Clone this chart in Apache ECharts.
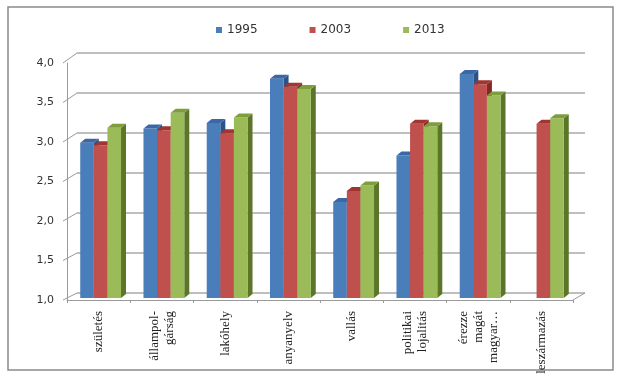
<!DOCTYPE html>
<html>
<head>
<meta charset="utf-8">
<script src="https://cdn.jsdelivr.net/npm/echarts@6/dist/echarts.min.js"></script>
<style>html,body{margin:0;padding:0;background:#fff;}#c{width:629px;height:382px;}</style>
</head>
<body>
<div id="c"></div>
<script>
const categories = ['születés', 'állampol-\ngárság', 'lakóhely', 'anyanyelv', 'vallás', 'politikai\nlojalitás', 'érezze\nmagát\nmagyar…', 'leszármazás'];
const years = ['1995', '2003', '2013'];
const v1995 = [2.99, 3.17, 3.24, 3.80, 2.24, 2.83, 3.86, null];
const v2003 = [2.96, 3.15, 3.11, 3.70, 2.38, 3.23, 3.73, 3.23];
const v2013 = [3.18, 3.37, 3.31, 3.67, 2.45, 3.20, 3.59, 3.30];
const yTicks = [1.0, 1.5, 2.0, 2.5, 3.0, 3.5, 4.0];

const seriesValues = [v1995, v2003, v2013];
const faceColors = [
  {front: '#4a7ebb', top: '#3a68a6', side: '#2c5287'},
  {front: '#c0504d', top: '#a13532', side: '#832826'},
  {front: '#9bbb59', top: '#7e9e3c', side: '#5b7629'}
];
const DX = 5, DY = -4;

const FRONT = {left: 67, right: 56, top: 63, bottom: 82};
const BACK = {left: 77, right: 44, top: 53, bottom: 89};

function makeRender(s) {
  return function (params, api) {
    const v = api.value(1);
    if (v == null || isNaN(v)) return null;
    const i = api.value(0);
    const base = api.coord([i, 1]);
    const top = api.coord([i, v]);
    const band = api.size([1, 0])[0];
    const w = band * 0.215;
    const x0 = base[0] - 1.5 * w + s * w + 2;
    const y0 = top[1], yb = base[1] - 2;
    const c = faceColors[s];
    return {
      type: 'group',
      children: [
        {type: 'polygon', shape: {points: [[x0 + w, y0], [x0 + w + DX, y0 + DY], [x0 + w + DX, yb + DY], [x0 + w, yb]]}, style: {fill: c.side}},
        {type: 'rect', shape: {x: x0, y: y0, width: w, height: yb - y0}, style: {fill: c.front}},
        {type: 'polygon', shape: {points: [[x0, y0], [x0 + w, y0], [x0 + w + DX, y0 + DY], [x0 + DX, y0 + DY]]}, style: {fill: c.top}}
      ]
    };
  };
}

const series = years.map((y, s) => ({
  name: y,
  type: 'custom',
  xAxisIndex: 0,
  yAxisIndex: 0,
  renderItem: makeRender(s),
  itemStyle: {color: faceColors[s].front},
  encode: {x: 0, y: 1},
  data: seriesValues[s].map((v, i) => [i, v == null ? NaN : v]),
  z: 5
}));

const chart = echarts.init(document.getElementById('c'), null, {renderer: 'canvas'});
chart.setOption({
  animation: false,
  backgroundColor: '#fff',
  legend: {
    data: years,
    left: 211,
    top: 19,
    icon: 'rect',
    itemWidth: 6,
    itemHeight: 6,
    itemGap: 52,
    textStyle: {fontFamily: 'DejaVu Sans', fontSize: 12, color: '#333'}
  },
  grid: [
    Object.assign({}, FRONT),
    Object.assign({}, BACK)
  ],
  xAxis: [
    {
      type: 'category', gridIndex: 0, data: categories,
      axisLine: {show: true, lineStyle: {color: '#9a9a9a', width: 1}},
      axisTick: {show: true, length: 3, lineStyle: {color: '#9a9a9a'}},
      axisLabel: {rotate: 90, margin: 11, fontFamily: 'Liberation Serif', fontSize: 13, color: '#222', lineHeight: 15, interval: 0}
    },
    {type: 'category', gridIndex: 1, data: categories, show: false}
  ],
  yAxis: [
    {
      type: 'value', gridIndex: 0, min: 1, max: 4, interval: 0.5,
      axisLine: {show: true, lineStyle: {color: '#9a9a9a', width: 1}},
      axisTick: {show: false},
      splitLine: {show: false},
      axisLabel: {margin: 13, fontFamily: 'DejaVu Sans', fontSize: 11, color: '#333', formatter: v => v.toFixed(1).replace('.', ',')}
    },
    {
      type: 'value', gridIndex: 1, min: 1, max: 4, interval: 0.5,
      axisLine: {show: false}, axisTick: {show: false}, axisLabel: {show: false},
      splitLine: {show: true, lineStyle: {color: '#a8a8a8', width: 1.5}}
    }
  ],
  series: series
});

// 3D connectors between front axis and back wall, plus outer border
const graphics = [];
const frontRightX = 629 - FRONT.right, backRightX = 629 - BACK.right;
yTicks.forEach(t => {
  const yf = chart.convertToPixel({yAxisIndex: 0}, t);
  const yb = chart.convertToPixel({yAxisIndex: 1}, t);
  graphics.push({type: 'line', shape: {x1: FRONT.left - 4, y1: yf, x2: BACK.left, y2: yb}, style: {stroke: '#9a9a9a', lineWidth: 1}, z: 1});
});
const yf1 = chart.convertToPixel({yAxisIndex: 0}, yTicks[0]);
const yb1 = chart.convertToPixel({yAxisIndex: 1}, yTicks[0]);
graphics.push({type: 'line', shape: {x1: frontRightX, y1: yf1, x2: backRightX, y2: yb1}, style: {stroke: '#9a9a9a', lineWidth: 1}, z: 1});
graphics.push({type: 'rect', shape: {x: 8, y: 7, width: 605, height: 363}, style: {fill: null, stroke: '#8a8a8a', lineWidth: 1.5}, z: 0});
chart.setOption({graphic: graphics});
</script>
</body>
</html>
